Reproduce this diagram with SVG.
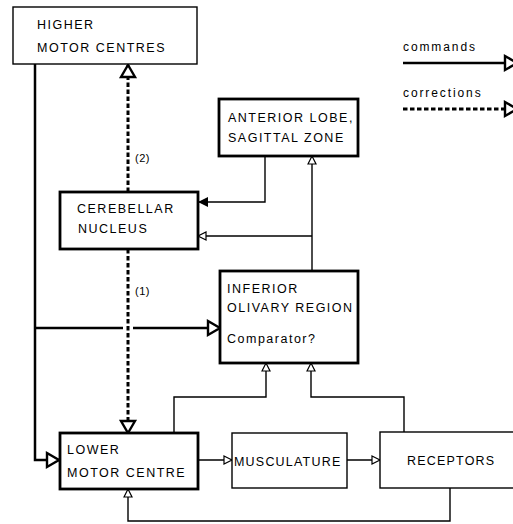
<svg xmlns="http://www.w3.org/2000/svg" width="513" height="524" viewBox="0 0 513 524">
<style>
.box{fill:#fff;stroke:#000}
.thin{stroke-width:1.4}
.thick{stroke-width:2.8}
text{font-family:"Liberation Sans",Arial,sans-serif;font-size:12.5px;letter-spacing:1.5px;fill:#000}
.lbl{font-size:11px;letter-spacing:0.5px}
.leg{font-size:12px;letter-spacing:1.9px}
.c{fill:none;stroke:#000}
.cmd{stroke-width:2.5}
.cor{stroke-width:3;stroke-dasharray:4.5 2.5}
.fb{stroke-width:1.4}
</style>
<defs>
<marker id="big" markerUnits="userSpaceOnUse" viewBox="-2 -10 16 20" refX="12" refY="0" markerWidth="16" markerHeight="20" orient="auto">
<path d="M0,-7 L12,0 L0,7 Z" fill="#fff" stroke="#000" stroke-width="2.4" stroke-linejoin="miter"/>
</marker>
<marker id="small" markerUnits="userSpaceOnUse" viewBox="-2 -6 12 12" refX="8" refY="0" markerWidth="12" markerHeight="12" orient="auto">
<path d="M0,-4 L8,0 L0,4 Z" fill="#fff" stroke="#000" stroke-width="1.2"/>
</marker>
<marker id="filled" markerUnits="userSpaceOnUse" viewBox="-2 -7 14 14" refX="10" refY="0" markerWidth="14" markerHeight="14" orient="auto">
<path d="M0,-5 L10,0 L0,5 Z" fill="#000"/>
</marker>
</defs>

<g id="connectors">
<path class="c cmd" d="M35,64 V460 H59" marker-end="url(#big)"/>
<path class="c cmd" d="M35,328 H123"/>
<path class="c cmd" d="M133,328 H220" marker-end="url(#big)"/>
<path class="c cor" d="M128,192 V65" marker-end="url(#big)"/>
<path class="c cor" d="M128,249 V433" marker-end="url(#big)"/>
<path class="c fb" d="M265,156 V202 H198" marker-end="url(#filled)"/>
<path class="c fb" d="M312,270 V156" marker-end="url(#small)"/>
<path class="c fb" d="M312,236 H198" marker-end="url(#small)"/>
<path class="c fb" d="M198,460 H232" marker-end="url(#small)"/>
<path class="c fb" d="M347,460 H380" marker-end="url(#small)"/>
<path class="c fb" d="M174,433 V397 H266 V363" marker-end="url(#small)"/>
<path class="c fb" d="M404,432 V397 H311 V363" marker-end="url(#small)"/>
<path class="c fb" d="M450,488 V521 H128 V489" marker-end="url(#small)"/>
<text class="lbl" x="135" y="162">(2)</text>
<text class="lbl" x="135" y="295">(1)</text>
</g>

<g id="legend">
<text class="leg" x="403" y="51">commands</text>
<path class="c cmd" d="M403,63 H517" marker-end="url(#big)"/>
<text class="leg" x="403" y="97">corrections</text>
<path class="c cor" d="M403,109 H517" marker-end="url(#big)"/>
</g>

<g id="higher-motor-centres">
<rect class="box thin" x="13" y="7" width="184" height="57"/>
<text x="37" y="29">HIGHER</text>
<text x="37" y="52">MOTOR CENTRES</text>
</g>

<g id="anterior-lobe">
<rect class="box thick" x="219" y="99" width="139" height="57"/>
<text x="228" y="122">ANTERIOR LOBE,</text>
<text x="228" y="142">SAGITTAL ZONE</text>
</g>

<g id="cerebellar-nucleus">
<rect class="box thick" x="60" y="192" width="138" height="57"/>
<text x="77" y="213">CEREBELLAR</text>
<text x="78" y="233">NUCLEUS</text>
</g>

<g id="inferior-olivary-region">
<rect class="box thick" x="220" y="271" width="138" height="92"/>
<text x="227" y="293">INFERIOR</text>
<text x="227" y="312">OLIVARY REGION</text>
<text x="227" y="343">Comparator?</text>
</g>

<g id="lower-motor-centre">
<rect class="box thick" x="60" y="433" width="138" height="56"/>
<text x="67" y="454">LOWER</text>
<text x="67" y="477">MOTOR CENTRE</text>
</g>

<g id="musculature">
<rect class="box thin" x="232" y="433" width="115" height="55"/>
<text x="234" y="466" style="letter-spacing:1.2px">MUSCULATURE</text>
</g>

<g id="receptors">
<rect class="box thin" x="380" y="432" width="150" height="56"/>
<text x="407" y="465" style="letter-spacing:1.2px">RECEPTORS</text>
</g>
</svg>
